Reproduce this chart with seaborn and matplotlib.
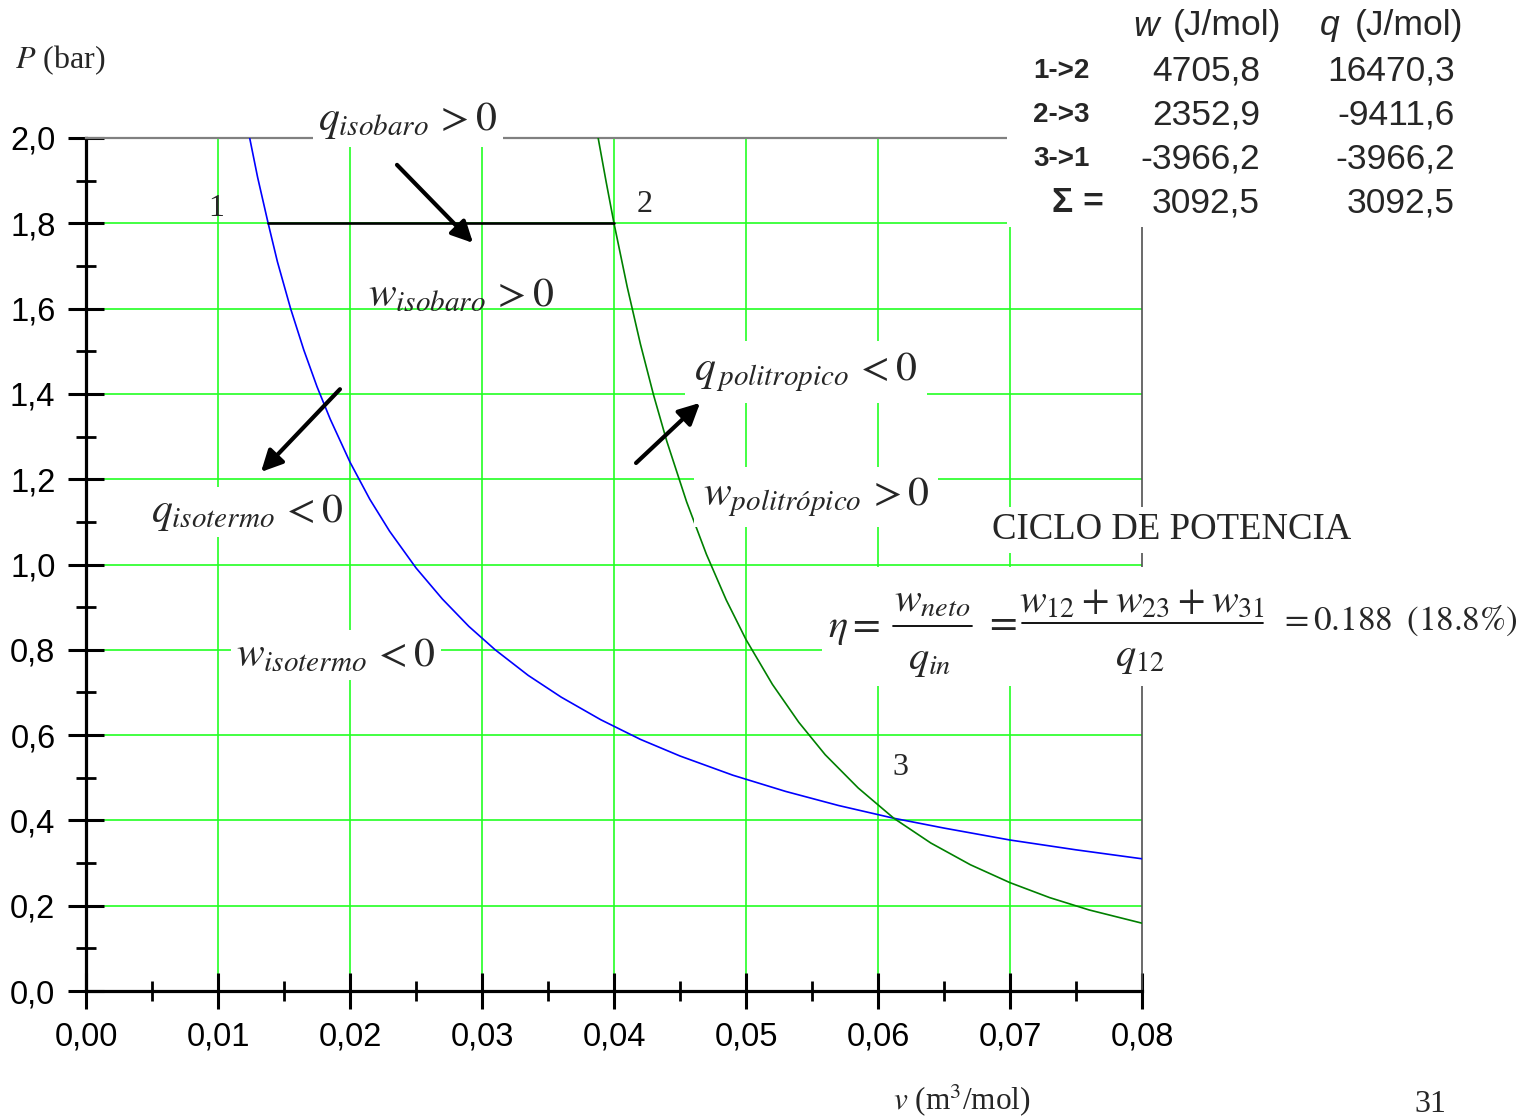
import numpy as np
import pandas as pd
import matplotlib
matplotlib.use("Agg")
import matplotlib.pyplot as plt
import seaborn as sns
from matplotlib.ticker import FixedLocator, FixedFormatter, MultipleLocator
from matplotlib.patches import Rectangle
from matplotlib.lines import Line2D

# ---------------- data ----------------
v_isotermo = [0.0124, 0.0130, 0.0138, 0.0145, 0.0155, 0.0165, 0.0175, 0.0185,
              0.0200, 0.0215, 0.0230, 0.0250, 0.0270, 0.0290, 0.0310, 0.0335,
              0.0360, 0.0390, 0.0420, 0.0450, 0.0490, 0.0530, 0.0570, 0.0612,
              0.0650, 0.0700, 0.0750, 0.0800]
p_isotermo = [2.000, 1.908, 1.800, 1.710, 1.600, 1.503, 1.417, 1.341,
              1.240, 1.153, 1.078, 0.992, 0.919, 0.855, 0.800, 0.740,
              0.689, 0.636, 0.590, 0.551, 0.506, 0.468, 0.435, 0.405,
              0.382, 0.354, 0.331, 0.310]

v_politropico = [0.0388, 0.0394, 0.0400, 0.0410, 0.0420, 0.0430, 0.0440, 0.0455,
                 0.0470, 0.0485, 0.0500, 0.0520, 0.0540, 0.0560, 0.0585, 0.0612,
                 0.0640, 0.0670, 0.0700, 0.0730, 0.0760, 0.0800]
p_politropico = [2.000, 1.898, 1.800, 1.651, 1.517, 1.397, 1.289, 1.147,
                 1.024, 0.917, 0.824, 0.719, 0.630, 0.554, 0.476, 0.405,
                 0.347, 0.296, 0.254, 0.219, 0.190, 0.159]

v_isobaro = [0.0138, 0.0400]
p_isobaro = [1.8, 1.8]

x_ticks = [0.00, 0.01, 0.02, 0.03, 0.04, 0.05, 0.06, 0.07, 0.08]
x_tick_labels = ["0,00", "0,01", "0,02", "0,03", "0,04", "0,05", "0,06", "0,07", "0,08"]
y_ticks = [0.0, 0.2, 0.4, 0.6, 0.8, 1.0, 1.2, 1.4, 1.6, 1.8, 2.0]
y_tick_labels = ["0,0", "0,2", "0,4", "0,6", "0,8", "1,0", "1,2", "1,4", "1,6", "1,8", "2,0"]

table_rows = ["1->2", "2->3", "3->1", "Σ ="]
w_values = ["4705,8", "2352,9", "-3966,2", "3092,5"]
q_values = ["16470,3", "-9411,6", "-3966,2", "3092,5"]

# ---------------- style ----------------
sns.set_style("white")
plt.rcParams["font.family"] = ["Liberation Sans", "DejaVu Sans"]
plt.rcParams["mathtext.fontset"] = "stix"

W, H = 1522, 1118
fig = plt.figure(figsize=(W / 100, H / 100), dpi=100)
fig.patch.set_facecolor("white")


def fx(px):
    return px / W


def fy(py):
    return 1 - py / H


ax = fig.add_axes([fx(86), fy(991), (1142 - 86) / W, (991 - 138) / H])

df_iso = pd.DataFrame({"v": v_isotermo, "P": p_isotermo})
df_pol = pd.DataFrame({"v": v_politropico, "P": p_politropico})
df_bar = pd.DataFrame({"v": v_isobaro, "P": p_isobaro})

sns.lineplot(data=df_iso, x="v", y="P", color="#0000FF", lw=1.2, ax=ax,
             sort=False, estimator=None, zorder=3)
sns.lineplot(data=df_pol, x="v", y="P", color="#008000", lw=1.2, ax=ax,
             sort=False, estimator=None, zorder=3)
sns.lineplot(data=df_bar, x="v", y="P", color="black", lw=1.9, ax=ax,
             sort=False, estimator=None, zorder=3)

ax.set_xlim(0, 0.08)
ax.set_ylim(0, 2.0)
ax.set_xlabel("")
ax.set_ylabel("")

ax.xaxis.set_major_locator(FixedLocator(x_ticks))
ax.xaxis.set_major_formatter(FixedFormatter(x_tick_labels))
ax.yaxis.set_major_locator(FixedLocator(y_ticks))
ax.yaxis.set_major_formatter(FixedFormatter(y_tick_labels))
ax.xaxis.set_minor_locator(MultipleLocator(0.005))
ax.yaxis.set_minor_locator(MultipleLocator(0.1))

ax.tick_params(axis="both", which="major", direction="inout", length=26, width=2.2,
               color="black", labelsize=23.5, labelcolor="black",
               bottom=True, left=True, top=False, right=False)
ax.tick_params(axis="x", which="major", pad=9)
ax.tick_params(axis="y", which="major", pad=9)
ax.tick_params(axis="both", which="minor", direction="inout", length=14, width=2,
               color="black", bottom=True, left=True, top=False, right=False)

for s in ["left", "bottom"]:
    ax.spines[s].set_color("black")
    ax.spines[s].set_linewidth(2.3)
ax.spines["top"].set_color("#808080")
ax.spines["top"].set_linewidth(1.6)
ax.spines["right"].set_color("#505050")
ax.spines["right"].set_linewidth(1.2)
for s in ax.spines.values():
    s.set_visible(True)
    s.set_zorder(2.6)

ax.set_axisbelow(True)
ax.grid(True, which="major", color="#22FF22", lw=1.2)
ax.grid(False, which="minor")
for t, loc in zip(ax.xaxis.get_major_ticks(), x_ticks):
    if loc in (x_ticks[0], x_ticks[-1]):
        t.gridline.set_visible(False)
for t, loc in zip(ax.yaxis.get_major_ticks(), y_ticks):
    if loc in (y_ticks[0], y_ticks[-1]):
        t.gridline.set_visible(False)

# ---------------- annotations ----------------
ann_fs = 30


def wb(p):
    return dict(facecolor="white", edgecolor="none", pad=p)


ax.text(0.0244, 2.040, r"$q_{isobaro}\,>0$", fontsize=ann_fs, ha="center", va="center",
        bbox=wb(4), zorder=6, clip_on=False)
ax.text(0.0284, 1.632, r"$w_{isobaro}\,>0$", fontsize=ann_fs, ha="center", va="center",
        zorder=6)
ax.text(0.05455, 1.451, r"$q_{\,politropico}\,<0$", fontsize=ann_fs, ha="center", va="center",
        bbox=wb(7), zorder=6)
ax.text(0.0553, 1.158, r"$w_{politrópico}\,>0$", fontsize=ann_fs, ha="center", va="center",
        bbox=wb(6), zorder=6)
ax.text(0.0122, 1.123, r"$q_{isotermo}\,<0$", fontsize=ann_fs, ha="center", va="center",
        bbox=wb(3), zorder=6)
ax.text(0.01894, 0.788, r"$w_{isotermo}\,<0$", fontsize=ann_fs, ha="center", va="center",
        bbox=wb(4), zorder=6)

arrow_kw = dict(arrowstyle="-|>", color="black", lw=3, mutation_scale=32,
                shrinkA=0, shrinkB=0)
ax.annotate("", xy=(0.02932, 1.754), xytext=(0.02356, 1.937), arrowprops=arrow_kw, zorder=7)
ax.annotate("", xy=(0.04652, 1.379), xytext=(0.04167, 1.238), arrowprops=arrow_kw, zorder=7)
ax.annotate("", xy=(0.01326, 1.217), xytext=(0.01924, 1.411), arrowprops=arrow_kw, zorder=7)

serif = ["Liberation Serif", "DejaVu Serif"]
ax.text(0.00985, 1.834, "1", fontsize=23, family=serif, ha="center", va="center", zorder=6)
ax.text(0.04235, 1.843, "2", fontsize=23, family=serif, ha="center", va="center", zorder=6)
ax.text(0.06167, 0.523, "3", fontsize=23, family=serif, ha="center", va="center", zorder=6)

fig.text(fx(1172), fy(530), "CICLO DE POTENCIA", fontsize=26.5, family=serif,
         ha="center", va="center", zorder=6, bbox=wb(4))

# efficiency equation, composed piece by piece on a white background
fig.add_artist(Rectangle((fx(822), fy(686)), 1 - fx(822), (686 - 567) / H,
                         transform=fig.transFigure, facecolor="white",
                         edgecolor="none", zorder=4))
eq_fs = 29
fig.text(fx(828), fy(628), r"$\eta=$", fontsize=eq_fs, ha="left", va="center", zorder=6)
fig.text(fx(932), fy(601), r"$w_{neto}$", fontsize=eq_fs, ha="center", va="center", zorder=6)
fig.text(fx(930), fy(660), r"$q_{in}$", fontsize=eq_fs, ha="center", va="center", zorder=6)
fig.add_artist(Line2D([fx(893), fx(972)], [fy(626), fy(626)], transform=fig.transFigure,
                      color="black", lw=1.3, zorder=6))
fig.text(fx(1001), fy(622), r"$=$", fontsize=eq_fs, ha="center", va="center", zorder=6)
fig.text(fx(1142), fy(601), r"$w_{12}+w_{23}+w_{31}$", fontsize=eq_fs, ha="center",
         va="center", zorder=6)
fig.text(fx(1140), fy(657), r"$q_{12}$", fontsize=eq_fs, ha="center", va="center", zorder=6)
fig.add_artist(Line2D([fx(1022), fx(1263)], [fy(623), fy(623)], transform=fig.transFigure,
                      color="black", lw=1.3, zorder=6))
fig.text(fx(1279), fy(621), r"$=0.188\;\;(18.8\%)$", fontsize=25.3, ha="left", va="center",
         zorder=6)

# axis labels & page number
fig.text(fx(15), fy(60), r"$P$ (bar)", fontsize=23, family=serif, ha="left", va="center")
fig.text(fx(893), fy(1100), r"$v$ (m$^3$/mol)", fontsize=22.5, family=serif, ha="left",
         va="center")
fig.text(fx(1430), fy(1105), "31", fontsize=23, family=serif, ha="center", va="center")

# ---------------- table (top right) ----------------
fig.add_artist(Rectangle((fx(1007), fy(227)), 1 - fx(1007), 227 / H,
                         transform=fig.transFigure, facecolor="white",
                         edgecolor="none", zorder=4))
tfs = 25.5
fig.text(fx(1133), fy(26), "w", fontsize=tfs, style="italic", ha="left", va="center", zorder=5)
fig.text(fx(1173), fy(26), "(J/mol)", fontsize=tfs, ha="left", va="center", zorder=5)
fig.text(fx(1320), fy(26), "q", fontsize=tfs, style="italic", ha="left", va="center", zorder=5)
fig.text(fx(1355), fy(26), "(J/mol)", fontsize=tfs, ha="left", va="center", zorder=5)

row_y = [71, 115, 159, 203]
for lab, wv, qv, py in zip(table_rows, w_values, q_values, row_y):
    if lab.startswith("Σ"):
        fig.text(fx(1052), fy(py), lab, fontsize=tfs, weight="bold", ha="left",
                 va="center", zorder=5)
    else:
        fig.text(fx(1033), fy(py), lab, fontsize=20, weight="bold", ha="left",
                 va="center", zorder=5)
    fig.text(fx(1260), fy(py), wv, fontsize=tfs, ha="right", va="center", zorder=5)
    fig.text(fx(1455), fy(py), qv, fontsize=tfs, ha="right", va="center", zorder=5)

fig.savefig("out.png", dpi=100, facecolor="white")
